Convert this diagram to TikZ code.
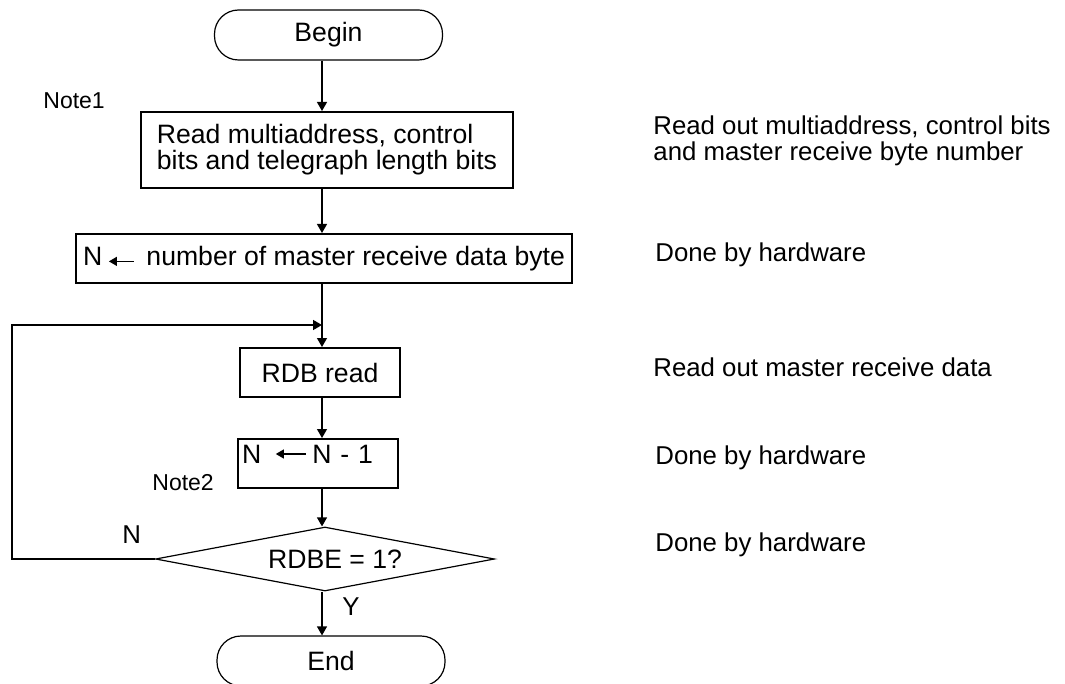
\documentclass[tikz,border=0pt]{standalone}
\usepackage{fontspec}
\setmainfont{Liberation Sans}
\usetikzlibrary{arrows.meta,shapes.geometric}
\newcommand\txtarr[2]{\tikz[baseline={(0pt,-#2)}]\draw[line width=0.6pt,-{Triangle[length=4pt,width=4.5pt]}] (#1,0pt) -- (0pt,0pt);}
\begin{document}
\begin{tikzpicture}[x=0.5pt,y=-0.5pt,
  every node/.style={font=\fontsize{13.3}{13}\selectfont},
  box/.style={draw,line width=1pt,inner sep=0pt},
  term/.style={draw,line width=0.6pt,rounded corners=12pt,minimum width=114pt,minimum height=25pt,inner sep=0pt},
  arr/.style={line width=0.6pt,-{Triangle[length=4.5pt,width=5pt]}},
  note/.style={font=\fontsize{11.5}{13}\selectfont,anchor=base west,inner sep=0pt},
  rtext/.style={font=\fontsize{12.9}{13}\selectfont,anchor=base west,inner sep=0pt}]
\useasboundingbox (0,0) rectangle (1065,684);
\clip (0,0) rectangle (1065,684);
\coordinate (c) at (322,0);
\node[term] (begin) at (328.5,35) {Begin};
\node[box,minimum width=186pt,minimum height=38pt,align=left] (read) at (327,150) {Read multiaddress, control\\bits and telegraph length bits};
\node[box,minimum width=248pt,minimum height=24.5pt] (num) at (324,258.5) {N\hspace{3pt}\txtarr{12.5pt}{2pt}\hspace{6pt}number of master receive data byte};
\coordinate (join) at (322,325);
\node[box,minimum width=80pt,minimum height=24.5pt] (rdb) at (320,372.5) {RDB read};
\node[box,text width=76pt,inner xsep=2pt,inner ysep=0pt,text height=12pt,text depth=12.5pt,align=left] (dec) at (318,463.5) {N\hspace{7pt}\txtarr{15pt}{4.5pt}\hspace{3pt}N - 1};
\node[draw,diamond,shape aspect=5.3,line width=0.6pt,minimum width=169.5pt,minimum height=32pt,inner sep=0pt] (dia) at (325,559) {\hspace{10pt}RDBE = 1?};
\node[term] (end) at (331,661) {End};
\node[note] (n1) at (43,109) {Note1};
\node[note] (n2) at (152,490) {Note2};
\node[rtext] (lN) at (122,543) {N};
\node[rtext] (lY) at (342,615) {Y};
\node[rtext] (r1a) at (653,135) {Read out multiaddress, control bits};
\node[rtext] (r1b) at (653,161) {and master receive byte number};
\node[rtext] (r2) at (655,262) {Done by hardware};
\node[rtext] (r3) at (653,376) {Read out master receive data};
\node[rtext] (r4) at (655,464) {Done by hardware};
\node[rtext] (r5) at (655,551) {Done by hardware};
\draw[arr] (begin.south -| c) -- (read.north -| c);
\draw[arr] (read.south -| c) -- (num.north -| c);
\draw[arr] (num.south -| c) -- (rdb.north -| c);
\draw[arr] (rdb.south -| c) -- (dec.north -| c);
\draw[arr] (dec.south -| c) -- (dia.north -| c);
\draw[arr] (dia.south -| c) -- (end.north -| c);
\coordinate (l1) at (12,559);
\coordinate (l2) at (12,325);
\draw[arr,line width=0.8pt] (dia.west) -- (l1) -- (l2) -- (join);
\end{tikzpicture}
\end{document}
